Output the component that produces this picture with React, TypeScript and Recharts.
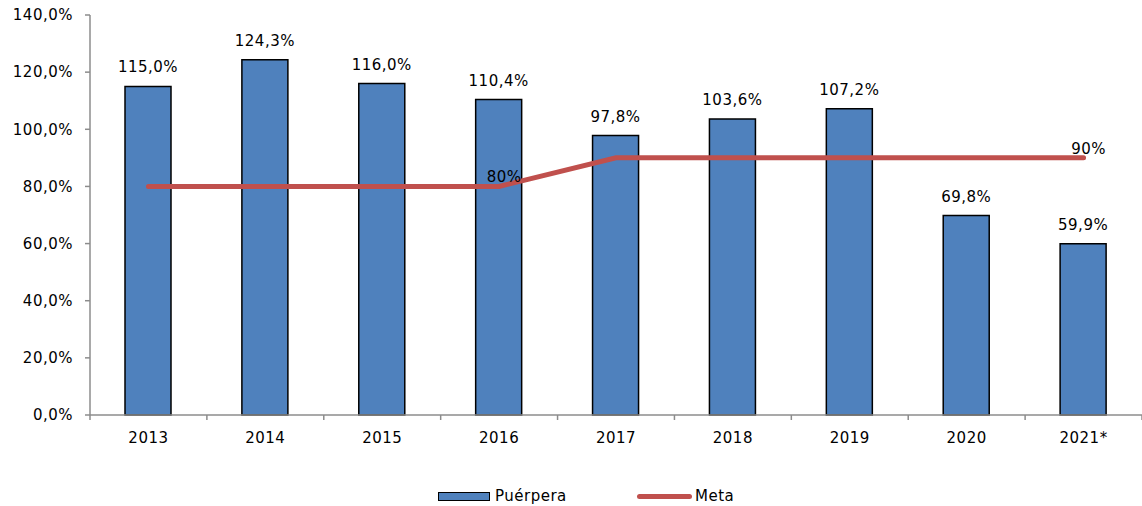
import React from 'react';
import { ComposedChart, Bar, Line, XAxis, YAxis, LabelList, Legend } from 'recharts';

const categories = ['2013', '2014', '2015', '2016', '2017', '2018', '2019', '2020', '2021*'];
const puerpera = [115.0, 124.3, 116.0, 110.4, 97.8, 103.6, 107.2, 69.8, 59.9];
const meta = [80, 80, 80, 80, 90, 90, 90, 90, 90];
const metaLabels = ['', '', '', '80%', '', '', '', '', '90%'];
const yTicks = [0, 20, 40, 60, 80, 100, 120, 140];

const data = categories.map((c, i) => ({
  year: c,
  puerpera: puerpera[i],
  meta: meta[i],
  metaLabel: metaLabels[i],
}));

const FONT = '"DejaVu Sans", Verdana, sans-serif';
const LS = 0.5;
const BAR_FILL = '#4F81BD';
const LINE_COLOR = '#C0504D';
const AXIS_COLOR = '#8C8C8C';

const fmt = (v: number) => v.toFixed(1).replace('.', ',') + '%';

const XTick = (props: any) => {
  const { x, y, payload, width, visibleTicksCount, index } = props;
  const band = width / visibleTicksCount;
  const left = x - band / 2;
  const axisY = y - 8;
  return (
    <g>
      <line x1={left} x2={left} y1={axisY} y2={axisY + 5} stroke={AXIS_COLOR} strokeWidth={1.5} />
      {index === visibleTicksCount - 1 && (
        <line x1={left + band} x2={left + band} y1={axisY} y2={axisY + 5} stroke={AXIS_COLOR} strokeWidth={1.5} />
      )}
      <text x={x} y={axisY + 28} textAnchor="middle" fontFamily={FONT} fontSize={15} letterSpacing={LS} fill="#000">
        {payload.value}
      </text>
    </g>
  );
};

const MetaLabel = (props: any) => {
  const { x, y, value } = props;
  if (!value) return null;
  return (
    <text x={x + 5} y={y - 4} textAnchor="middle" fontFamily={FONT} fontSize={15} letterSpacing={LS} fill="#000">
      {value}
    </text>
  );
};

const LegendContent = () => (
  <div style={{ position: 'relative', width: 1142, height: 20, fontFamily: FONT, fontSize: 15, letterSpacing: LS, color: '#000' }}>
    <div style={{ position: 'absolute', left: 438, top: 6, width: 50, height: 7, background: BAR_FILL, border: '1.5px solid #000' }} />
    <div style={{ position: 'absolute', left: 495, top: 0, lineHeight: '20px' }}>Puérpera</div>
    <div style={{ position: 'absolute', left: 637, top: 8, width: 55, height: 5, background: LINE_COLOR, borderRadius: 3 }} />
    <div style={{ position: 'absolute', left: 695, top: 0, lineHeight: '20px' }}>Meta</div>
  </div>
);

export default function App() {
  return (
    <div style={{ position: 'absolute', left: 0, top: 0, width: 1142, height: 506, background: '#fff' }}>
      <ComposedChart
        width={1142}
        height={506}
        data={data}
        margin={{ top: 15, right: 0, left: 0, bottom: 41 }}
        barCategoryGap={0}
      >
        <XAxis
          dataKey="year"
          axisLine={{ stroke: AXIS_COLOR, strokeWidth: 1.5 }}
          tickLine={false}
          tick={<XTick />}
          height={30}
          interval={0}
        />
        <YAxis
          domain={[0, 140]}
          ticks={yTicks}
          tickFormatter={fmt}
          width={90}
          axisLine={{ stroke: AXIS_COLOR, strokeWidth: 1.5 }}
          tickLine={{ stroke: AXIS_COLOR, strokeWidth: 1.5 }}
          tickSize={5}
          tickMargin={12}
          tick={{ fontFamily: FONT, fontSize: 15, fill: '#000', letterSpacing: LS }}
          interval={0}
        />
        <Legend verticalAlign="bottom" wrapperStyle={{ bottom: 0, left: 0 }} content={<LegendContent />} />
        <Bar dataKey="puerpera" name="Puérpera" fill={BAR_FILL} stroke="#000" strokeWidth={1.5} barSize={46} isAnimationActive={false}>
          <LabelList dataKey="puerpera" position="top" offset={14} formatter={fmt} style={{ fontFamily: FONT, fontSize: 15, fill: '#000', letterSpacing: LS }} />
        </Bar>
        <Line
          dataKey="meta"
          name="Meta"
          type="linear"
          stroke={LINE_COLOR}
          strokeWidth={5}
          strokeLinecap="round"
          dot={false}
          activeDot={false}
          isAnimationActive={false}
        >
          <LabelList dataKey="metaLabel" content={<MetaLabel />} />
        </Line>
      </ComposedChart>
    </div>
  );
}
